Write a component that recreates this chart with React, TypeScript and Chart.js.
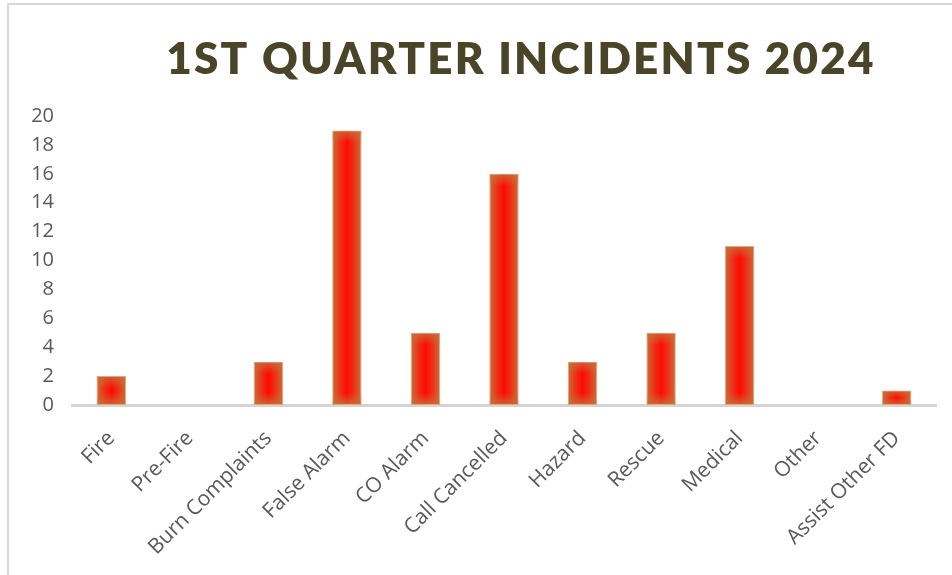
import React, { useEffect, useRef } from 'react';
import { Chart, registerables } from 'chart.js';

Chart.register(...registerables);

const chartTitle = '1ST QUARTER INCIDENTS 2024';
const categories = [
  'Fire',
  'Pre-Fire',
  'Burn Complaints',
  'False Alarm',
  'CO Alarm',
  'Call Cancelled',
  'Hazard',
  'Rescue',
  'Medical',
  'Other',
  'Assist Other FD',
];
const incidents = [2, 0, 3, 19, 5, 16, 3, 5, 11, 0, 1];
const yMin = 0;
const yMax = 20;
const yStep = 2;

const BAR_PCT = 0.375;

export default function App() {
  const ref = useRef<HTMLCanvasElement>(null);

  useEffect(() => {
    const canvas = ref.current;
    if (!canvas) return;

    const titlePlugin = {
      id: 'excelTitle',
      afterDraw(chart: any) {
        const ctx = chart.ctx;
        ctx.save();
        ctx.font = '800 44px Lato';
        (ctx as any).letterSpacing = '2.2px';
        ctx.fillStyle = '#4a4528';
        ctx.textAlign = 'center';
        ctx.textBaseline = 'middle';
        ctx.fillText(chartTitle, 512, 55);
        ctx.restore();
      },
    };

    const shadePlugin = {
      id: 'barShade',
      afterDatasetsDraw(chart: any) {
        const ctx = chart.ctx;
        const meta = chart.getDatasetMeta(0);
        meta.data.forEach((el: any, i: number) => {
          if (!incidents[i]) return;
          const top = Math.min(el.y, el.base);
          const bottom = Math.max(el.y, el.base);
          const left = el.x - el.width / 2;
          const h = bottom - top;
          const edge = Math.min(12, h / 2);
          ctx.save();
          let g = ctx.createLinearGradient(0, top, 0, top + edge);
          g.addColorStop(0, 'rgba(200,112,58,0.85)');
          g.addColorStop(1, 'rgba(200,112,58,0)');
          ctx.fillStyle = g;
          ctx.fillRect(left + 1, top + 1, el.width - 2, edge);
          g = ctx.createLinearGradient(0, bottom, 0, bottom - edge);
          g.addColorStop(0, 'rgba(200,112,58,0.85)');
          g.addColorStop(1, 'rgba(200,112,58,0)');
          ctx.fillStyle = g;
          ctx.fillRect(left + 1, bottom - edge, el.width - 2, edge - 1);
          ctx.restore();
        });
      },
    };

    const barFill = (c: any) => {
      const chart = c.chart;
      const xs = chart.scales && chart.scales.x;
      if (!xs || c.dataIndex == null || !xs.width) return '#ff0a00';
      const cx = xs.getPixelForValue(c.dataIndex);
      const w = (xs.width / categories.length) * BAR_PCT;
      const g = chart.ctx.createLinearGradient(cx - w / 2, 0, cx + w / 2, 0);
      g.addColorStop(0, '#c9703a');
      g.addColorStop(0.28, '#ee2e16');
      g.addColorStop(0.5, '#ff0a02');
      g.addColorStop(0.72, '#ee2e16');
      g.addColorStop(1, '#c9703a');
      return g;
    };

    const chart = new Chart(canvas, {
      type: 'bar',
      data: {
        labels: categories,
        datasets: [
          {
            data: incidents,
            backgroundColor: barFill,
            borderColor: '#dfa878',
            borderWidth: (c: any) => (incidents[c.dataIndex] ? 1 : 0),
            borderSkipped: false,
            barPercentage: BAR_PCT,
            categoryPercentage: 1,
          },
        ],
      },
      options: {
        responsive: false,
        animation: false,
        layout: { padding: { top: 111, left: 8, right: 16, bottom: 0 } },
        plugins: {
          legend: { display: false },
          title: { display: false },
          tooltip: { enabled: false },
        },
        scales: {
          x: {
            afterFit: (s: any) => {
              s.height = 170;
            },
            grid: { display: false, drawTicks: false },
            border: { display: true, color: '#d4d4d4', width: 3 },
            ticks: {
              color: '#595959',
              font: { family: 'Open Sans', size: 21 },
              maxRotation: 45,
              minRotation: 45,
              autoSkip: false,
              padding: 21,
            },
          },
          y: {
            min: yMin,
            max: yMax,
            afterFit: (s: any) => {
              s.width = 55;
            },
            grid: { display: false, drawTicks: false },
            border: { display: false },
            ticks: {
              stepSize: yStep,
              color: '#595959',
              font: { family: 'Open Sans', size: 20 },
              padding: 18,
            },
          },
        },
      },
      plugins: [titlePlugin, shadePlugin],
    });

    return () => chart.destroy();
  }, []);

  return (
    <div
      style={{
        position: 'fixed',
        left: 7,
        top: 3,
        width: 960,
        height: 600,
        borderLeft: '2px solid #d9d9d9',
        borderTop: '2px solid #d9d9d9',
        boxSizing: 'border-box',
        background: '#ffffff',
      }}
    >
      <canvas ref={ref} width={943} height={570} style={{ display: 'block' }} />
    </div>
  );
}
